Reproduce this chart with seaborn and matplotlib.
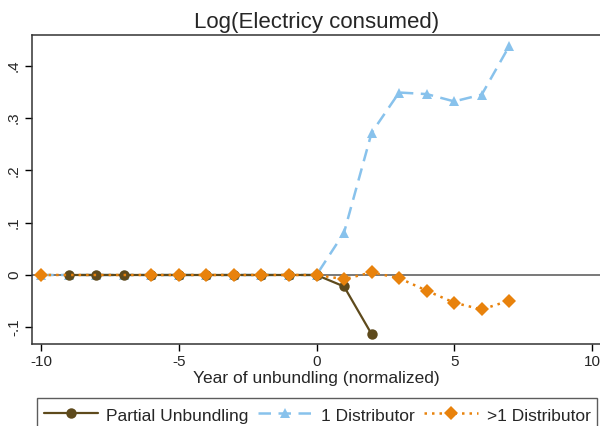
import numpy as np
import pandas as pd
import matplotlib
matplotlib.use("Agg")
import matplotlib.pyplot as plt
import seaborn as sns

# Event-study estimates by year relative to unbundling
partial_years = [-9, -8, -7, -6, -5, -4, -3, -2, -1, 0, 1, 2]
partial_vals = [0, 0, 0, 0, 0, 0, 0, 0, 0, 0, -0.022, -0.113]

one_years = [-10, -9, -8, -7, -6, -5, -4, -3, -2, -1, 0, 1, 2, 3, 4, 5, 6, 7]
one_vals = [0, 0, 0, 0, 0, 0, 0, 0, 0, 0, 0, 0.081, 0.272, 0.349, 0.346, 0.332, 0.345, 0.438]

multi_years = [-10, -6, -5, -4, -3, -2, -1, 0, 1, 2, 3, 4, 5, 6, 7]
multi_vals = [0, 0, 0, 0, 0, 0, 0, 0, -0.008, 0.005, -0.006, -0.030, -0.053, -0.066, -0.049]

x_ticks = [-10, -5, 0, 5, 10]
y_ticks = [-0.1, 0, 0.1, 0.2, 0.3, 0.4]
y_tick_labels = ["-.1", "0", ".1", ".2", ".3", ".4"]

sns.set_style("white")
plt.rcParams["font.family"] = ["Liberation Sans", "DejaVu Sans"]

fig = plt.figure(figsize=(6.0, 4.26), dpi=100)
ax = fig.add_axes([32 / 600, 1 - 344 / 426, (601 - 32) / 600, (344 - 35) / 426])

brown = "#5e4a1c"
blue = "#88c2ec"
orange = "#e8820c"

ax.axhline(0, color="#555555", lw=1.1, zorder=1)

df_p = pd.DataFrame({"year": partial_years, "val": partial_vals})
df_o = pd.DataFrame({"year": one_years, "val": one_vals})
df_m = pd.DataFrame({"year": multi_years, "val": multi_vals})

sns.lineplot(data=df_p, x="year", y="val", ax=ax, color=brown, lw=1.6,
             linestyle="-", marker="o", markersize=7.5, markeredgewidth=0,
             label="Partial Unbundling", zorder=3)
sns.lineplot(data=df_o, x="year", y="val", ax=ax, color=blue, lw=1.8,
             linestyle=(0, (5, 3)), marker="^", markersize=7.5, markeredgewidth=0,
             label="1 Distributor", zorder=2)
sns.lineplot(data=df_m, x="year", y="val", ax=ax, color=orange, lw=1.8,
             linestyle=(0, (1, 2)), marker="D", markersize=7.5, markeredgewidth=0,
             label=">1 Distributor", zorder=4)

ax.set_xlim(-10.33, 10.33)
ax.set_ylim(-0.132, 0.459)
ax.set_xticks(x_ticks)
ax.set_xticklabels([str(t) for t in x_ticks], fontsize=11)
ax.set_yticks(y_ticks)
ax.set_yticklabels(y_tick_labels, fontsize=11, rotation=90, va="center")
ax.tick_params(axis="both", direction="out", length=5, width=1, color="black", pad=3)
ax.tick_params(axis="x", bottom=True)
ax.tick_params(axis="y", left=True)
for s in ax.spines.values():
    s.set_color("#333333")
    s.set_linewidth(1.1)

ax.set_xlabel("Year of unbundling (normalized)", fontsize=12.5, labelpad=1)
ax.set_ylabel("")
ax.set_title("Log(Electricy consumed)", fontsize=16, pad=5)

handles, labels = ax.get_legend_handles_labels()
order = [labels.index("Partial Unbundling"), labels.index("1 Distributor"), labels.index(">1 Distributor")]
ax.legend([handles[i] for i in order], [labels[i] for i in order],
          loc="upper left", bbox_to_anchor=(37 / 600, 1 - 398 / 426),
          bbox_transform=fig.transFigure, ncol=3, frameon=True, fancybox=False,
          edgecolor="#333333", fontsize=12.5, handlelength=3.1, handletextpad=0.5,
          handleheight=1.5, columnspacing=0.55, borderpad=0.4, borderaxespad=0)
leg = ax.get_legend()
leg.get_frame().set_linewidth(1.0)

fig.savefig("out.png", dpi=100)
